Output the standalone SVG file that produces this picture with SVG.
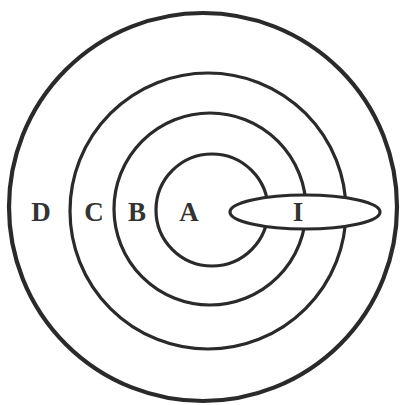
<svg xmlns="http://www.w3.org/2000/svg" width="401" height="405" viewBox="0 0 401 405">
<style>
.ring{fill:none;stroke:#2a2a2a;stroke-width:3.2}
.lbl{font-family:"Liberation Serif",serif;font-weight:bold;font-size:27px;fill:#333;text-anchor:middle}
</style>
<rect width="401" height="405" fill="#fff"/>
<g id="D"><circle class="ring" cx="203" cy="207" r="194" style="stroke-width:4.2"/><text class="lbl" x="41" y="221">D</text></g>
<g id="C"><circle class="ring" cx="208" cy="211" r="138"/><text class="lbl" x="94" y="221">C</text></g>
<g id="B"><circle class="ring" cx="210" cy="209" r="96"/><text class="lbl" x="137" y="221">B</text></g>
<g id="A"><circle class="ring" cx="212" cy="210" r="56"/><text class="lbl" x="189" y="221">A</text></g>
<g id="I"><ellipse cx="305" cy="212" rx="75" ry="17" fill="#fff" stroke="#2a2a2a" stroke-width="3.2"/><text class="lbl" x="298" y="221">I</text></g>
<g id="connectors"></g>
</svg>
